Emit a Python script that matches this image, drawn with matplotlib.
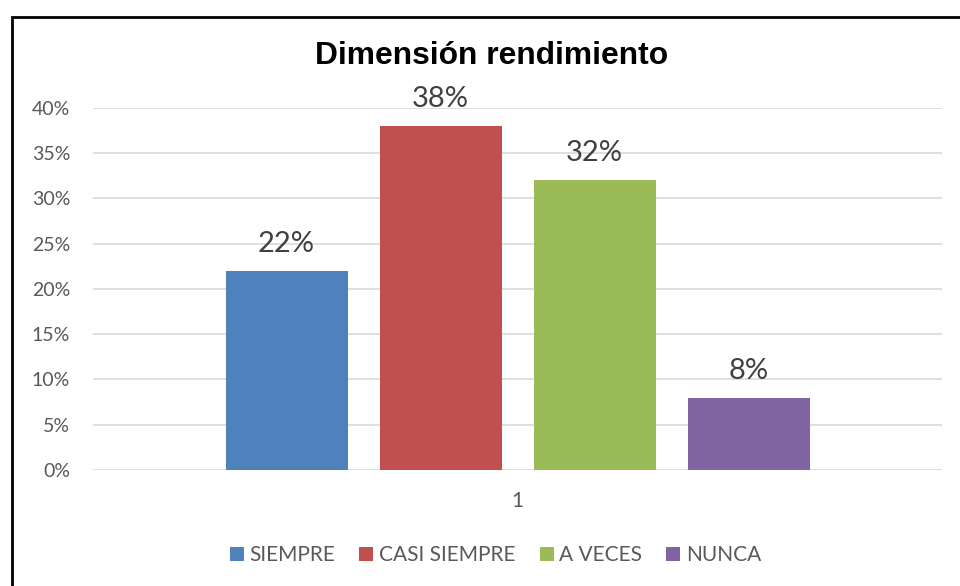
import matplotlib.pyplot as plt
from matplotlib.patches import Rectangle
from matplotlib.ticker import PercentFormatter

# Data
categories = ['SIEMPRE', 'CASI SIEMPRE', 'A VECES', 'NUNCA']
values = [22, 38, 32, 8]
colors = ['#4F81BD', '#C0504D', '#9BBB59', '#8064A2']
yticks = [0, 5, 10, 15, 20, 25, 30, 35, 40]

plt.rcParams['font.family'] = ['Lato', 'DejaVu Sans']

fig = plt.figure(figsize=(9.6, 5.86), dpi=100)
ax = fig.add_axes([0.0969, 0.198, 0.8844, 0.6177])

# Outer chart border (only top and left visible in the crop)
fig.patches.append(Rectangle((11.5 / 960, -0.1), 1.2, 1 - 17.5 / 586 + 0.1,
                             transform=fig.transFigure, fill=False,
                             edgecolor='black', linewidth=2))

step = 0.1814
width = 0.1437
for i, (name, v, c) in enumerate(zip(categories, values, colors)):
    x = (i - 1.5) * step
    ax.bar(x, v, width=width, color=c, label=name, zorder=3)
    ax.text(x, v + 2.1, f'{v}%', ha='center', va='baseline',
            fontsize=21, color='#404040', zorder=4)

ax.set_xlim(-0.5, 0.5)
ax.set_ylim(0, 40)
ax.set_yticks(yticks)
ax.yaxis.set_major_formatter(PercentFormatter(decimals=0))
ax.set_xticks([0])
ax.set_xticklabels(['1'])
ax.grid(axis='y', color='#D9D9D9', linewidth=1.2, zorder=0)
for s in ax.spines.values():
    s.set_visible(False)
ax.tick_params(axis='both', length=0, labelsize=14, colors='#595959')
ax.tick_params(axis='x', labelsize=15)
ax.tick_params(axis='y', pad=16.5)
ax.tick_params(axis='x', pad=15)

fig.text(492 / 960, 1 - 56 / 586, 'Dimensión rendimiento', ha='center', va='center',
         fontsize=22.9, fontweight='bold', family='Liberation Sans')

leg = fig.legend(loc='center', bbox_to_anchor=(495.5 / 960, 1 - 555 / 586), ncol=4,
                 frameon=False, fontsize=15, handlelength=0.67,
                 handleheight=0.67, handletextpad=0.28, columnspacing=1.15,
                 borderpad=0)
for t in leg.get_texts():
    t.set_color('#595959')

fig.savefig('out.png', dpi=100)
